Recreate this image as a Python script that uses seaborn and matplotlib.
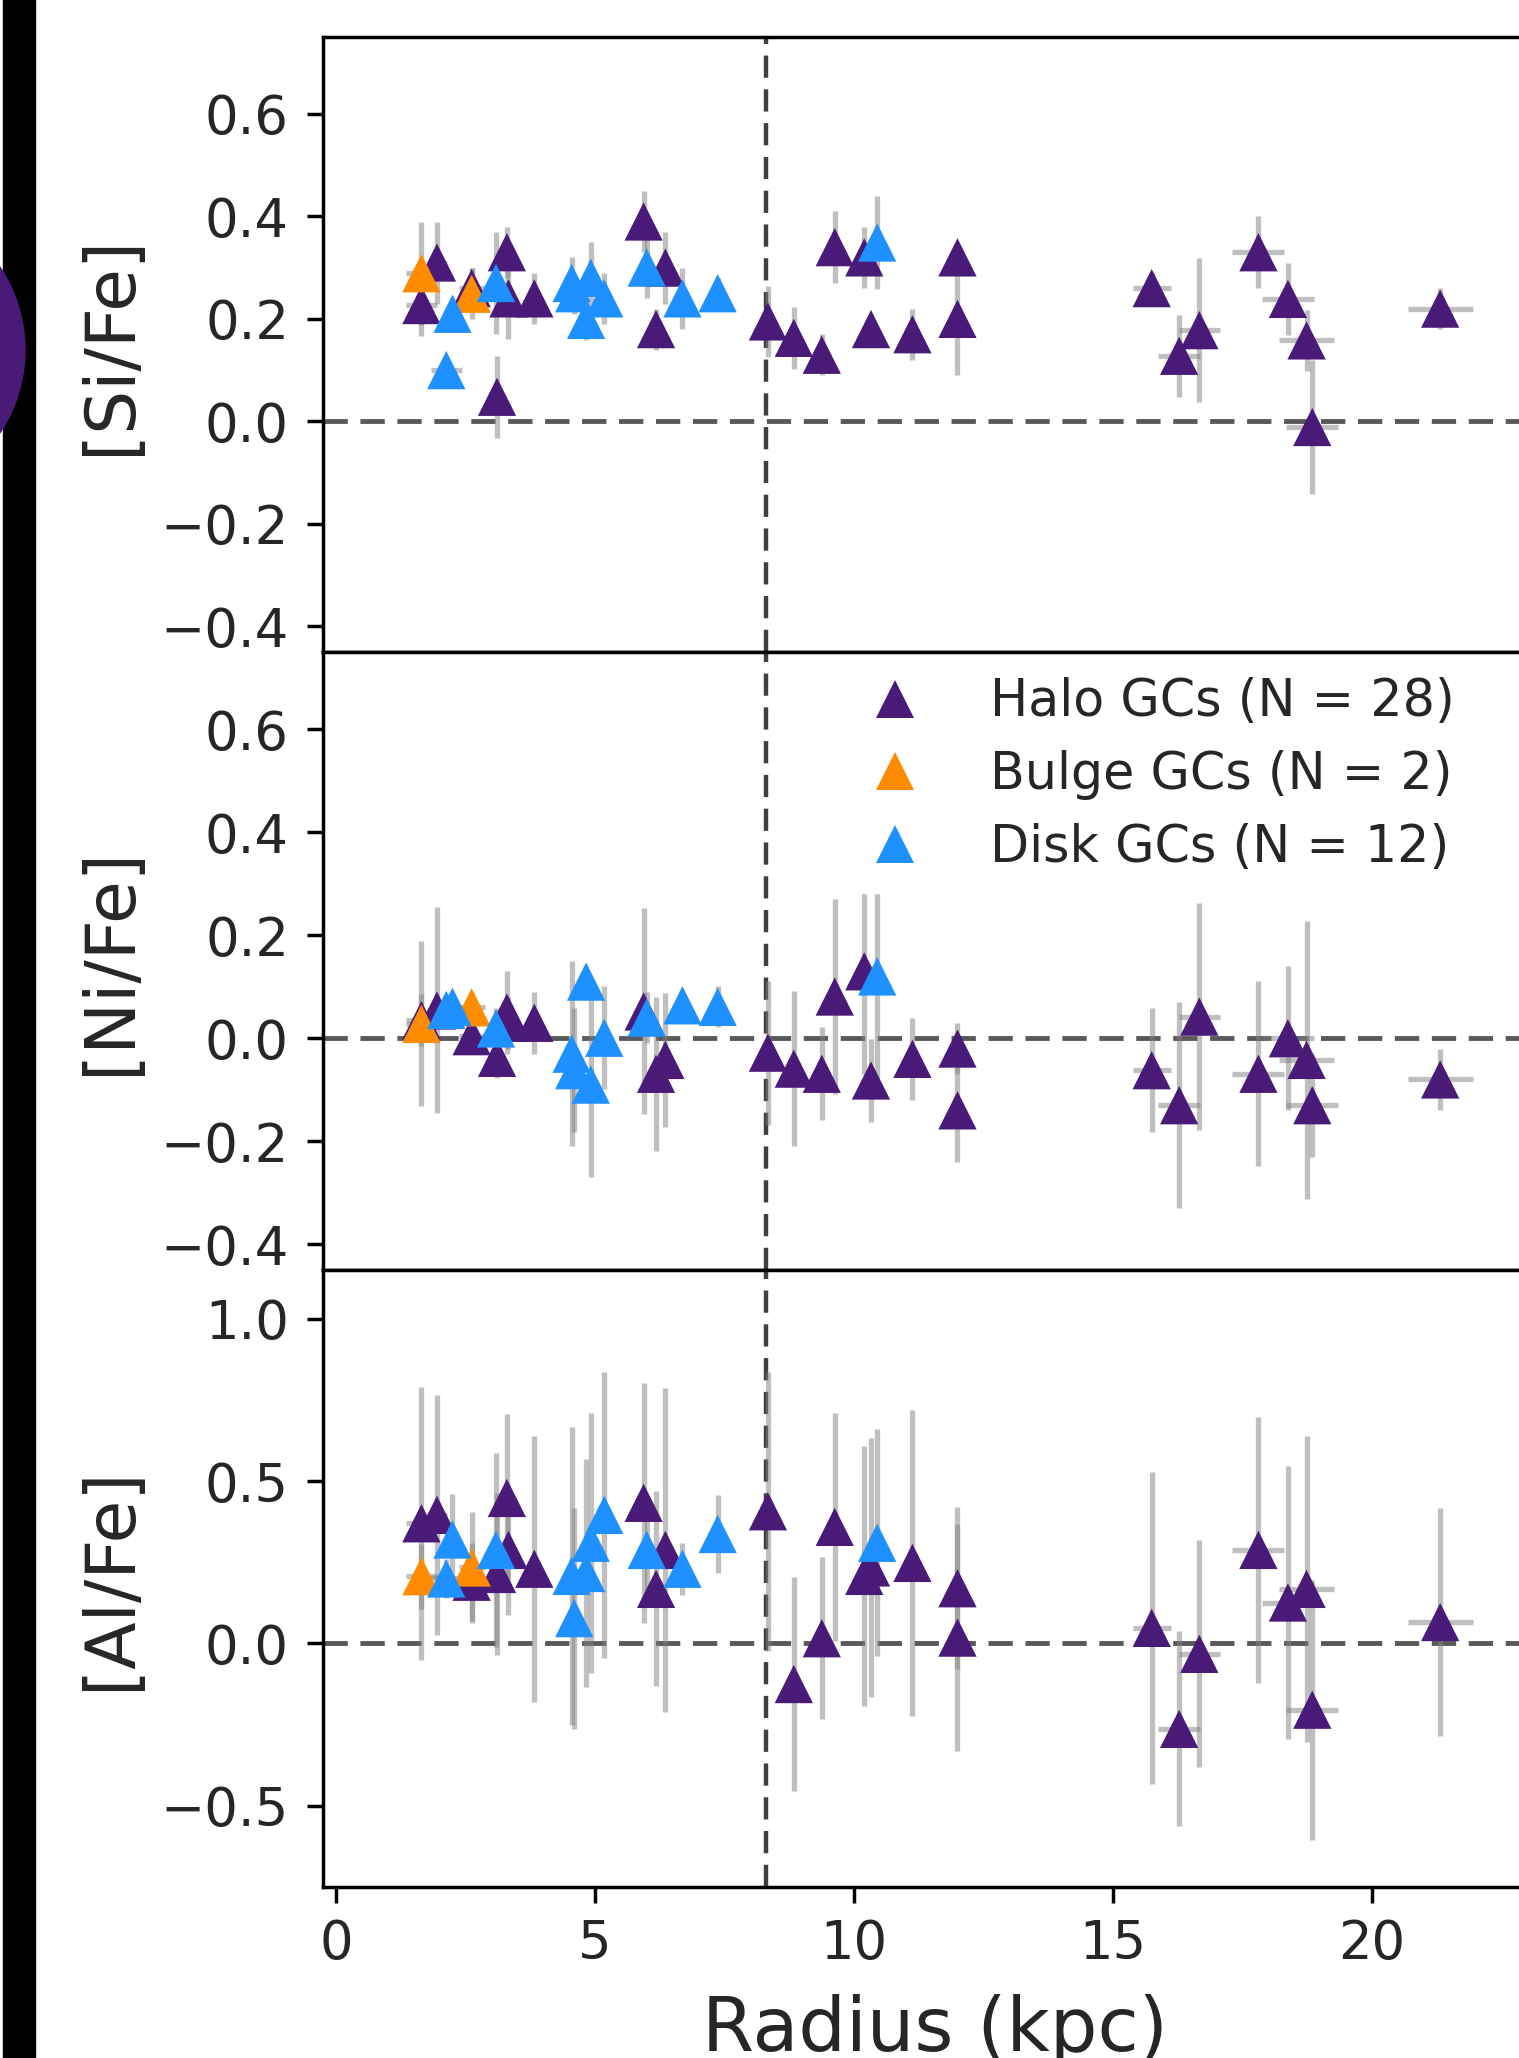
import pandas as pd
import matplotlib
matplotlib.use("Agg")
import matplotlib.pyplot as plt
import seaborn as sns
from matplotlib.patches import Rectangle, Ellipse

# Halo GCs
halo_r = [1.65, 1.95, 2.62, 3.11, 3.30, 3.33, 3.83, 5.94, 6.18, 6.36, 8.34, 8.84, 9.38, 9.63,
          10.20, 10.33, 11.13, 12.0, 12.0, 15.75, 16.28, 16.67, 17.81, 18.38, 18.74, 18.85, 21.32]
halo_xerr = [0.3, 0.2, 0.25, 0.1, 0, 0, 0, 0, 0, 0, 0, 0, 0, 0,
             0, 0, 0, 0, 0, 0.37, 0.4, 0.4, 0.5, 0.5, 0.53, 0.5, 0.63]
halo_si = [0.227, 0.31, 0.26, 0.048, 0.33, 0.24, 0.24, 0.39, 0.18, 0.30, 0.195, 0.163, 0.13, 0.34,
           0.32, 0.18, 0.17, 0.32, 0.20, 0.26, 0.128, 0.178, 0.33, 0.239, 0.158, -0.011, 0.22]
halo_si_err = [0.06, 0.08, 0.04, 0.08, 0.05, 0.08, 0.05, 0.06, 0.04, 0.07, 0.07, 0.06, 0.04, 0.07,
               0.06, 0.03, 0.05, 0.02, 0.11, 0.03, 0.08, 0.14, 0.07, 0.07, 0.06, 0.13, 0.04]
halo_ni = [0.035, 0.054, 0.004, -0.038, 0.05, 0.03, 0.03, 0.052, -0.069, -0.042, -0.028, -0.059, -0.069, 0.081,
           0.13, -0.082, -0.04, -0.02, -0.14, -0.062, -0.13, 0.042, -0.069, 0.0, -0.042, -0.13, -0.08]
halo_ni_err = [0.05, 0.2, 0.03, 0.04, 0.08, 0.05, 0.06, 0.2, 0.15, 0.13, 0.14, 0.15, 0.09, 0.19,
               0.2, 0.08, 0.08, 0.05, 0.1, 0.12, 0.2, 0.22, 0.18, 0.14, 0.27, 0.1, 0.06]
halo_al = [0.37, 0.396, 0.19, 0.214, 0.448, 0.288, 0.23, 0.433, 0.168, 0.288, 0.407, -0.125, 0.016, 0.359,
           0.208, 0.234, 0.248, 0.17, 0.018, 0.048, -0.263, -0.032, 0.288, 0.126, 0.168, -0.204, 0.066]
halo_al_err = [0.42, 0.37, 0.12, 0.25, 0.26, 0.2, 0.41, 0.37, 0.3, 0.5, 0.43, 0.33, 0.25, 0.35,
               0.4, 0.4, 0.47, 0.25, 0.35, 0.48, 0.3, 0.35, 0.41, 0.42, 0.47, 0.4, 0.35]

# Bulge GCs
bulge_r = [1.65, 2.62]
bulge_xerr = [0.3, 0.25]
bulge_si = [0.289, 0.249]
bulge_si_err = [0.10, 0.05]
bulge_ni = [0.028, 0.06]
bulge_ni_err = [0.16, 0.03]
bulge_al = [0.207, 0.234]
bulge_al_err = [0.1, 0.17]

# Disk GCs
disk_r = [2.13, 2.25, 3.09, 4.55, 4.60, 4.83, 4.92, 5.18, 6.0, 6.69, 7.37, 10.45]
disk_xerr = [0.3, 0.15, 0, 0, 0, 0, 0, 0, 0, 0, 0, 0]
disk_si = [0.10, 0.21, 0.27, 0.27, 0.25, 0.198, 0.28, 0.24, 0.30, 0.24, 0.25, 0.349]
disk_si_err = [0.02, 0.03, 0.1, 0.05, 0.04, 0.04, 0.07, 0.05, 0.06, 0.06, 0.03, 0.09]
disk_ni = [0.055, 0.061, 0.019, -0.03, -0.062, 0.11, -0.09, 0.001, 0.04, 0.064, 0.061, 0.12]
disk_ni_err = [0.03, 0.03, 0.04, 0.18, 0.12, 0.03, 0.18, 0.1, 0.05, 0.03, 0.04, 0.2]
disk_al = [0.2, 0.32, 0.288, 0.208, 0.078, 0.217, 0.31, 0.396, 0.288, 0.23, 0.337, 0.31]
disk_al_err = [0.06, 0.14, 0.3, 0.46, 0.34, 0.35, 0.4, 0.44, 0.15, 0.08, 0.12, 0.35]

labels = ["Halo GCs (N = 28)", "Bulge GCs (N = 2)", "Disk GCs (N = 12)"]
colors = ["#4a1a78", "#ff8c00", "#1e90ff"]
elements = ["[Si/Fe]", "[Ni/Fe]", "[Al/Fe]"]

groups = [
    (labels[0], halo_r, halo_xerr, [(halo_si, halo_si_err), (halo_ni, halo_ni_err), (halo_al, halo_al_err)]),
    (labels[1], bulge_r, bulge_xerr, [(bulge_si, bulge_si_err), (bulge_ni, bulge_ni_err), (bulge_al, bulge_al_err)]),
    (labels[2], disk_r, disk_xerr, [(disk_si, disk_si_err), (disk_ni, disk_ni_err), (disk_al, disk_al_err)]),
]
rows = []
for name, r, xe, vals in groups:
    for el, (v, e) in zip(elements, vals):
        for i in range(len(r)):
            rows.append({"radius": r[i], "xerr": xe[i], "group": name,
                         "element": el, "value": v[i], "err": e[i]})
df = pd.DataFrame(rows)

sns.set_style("ticks")
plt.rcParams["font.family"] = ["DejaVu Sans"]

fig, axes = plt.subplots(3, 1, figsize=(15.19, 20.58), dpi=100, sharex=True)

W, H = 1519, 2058
left, width = 323 / W, 1256 / W
bounds = [(37, 652), (652, 1270), (1270, 1887)]
ylims = [(-0.45, 0.75), (-0.45, 0.75), (-0.75, 1.15)]
yticks = [[-0.4, -0.2, 0.0, 0.2, 0.4, 0.6], [-0.4, -0.2, 0.0, 0.2, 0.4, 0.6], [-0.5, 0.0, 0.5, 1.0]]

dash = (0, (5, 2.6))
for i, ax in enumerate(axes):
    top, bot = bounds[i]
    ax.set_position([left, 1 - bot / H, width, (bot - top) / H])
    sub = df[df["element"] == elements[i]]
    ax.axhline(0, color="0.35", lw=3.5, ls=dash, zorder=0)
    ax.axvline(8.3, color="0.25", lw=3.2, ls=dash, zorder=0.5)
    ax.errorbar(sub["radius"], sub["value"], yerr=sub["err"], xerr=sub["xerr"], fmt="none",
                ecolor="gray", alpha=0.5, elinewidth=3.8, capsize=0, zorder=1)
    sns.scatterplot(data=sub, x="radius", y="value", hue="group", hue_order=labels,
                    palette=colors, marker="^", s=760, linewidth=0, ax=ax,
                    legend=(i == 1), zorder=3)
    ax.set_ylim(*ylims[i])
    ax.set_yticks(yticks[i])
    ax.set_xlim(-0.25, 24)
    ax.set_ylabel(elements[i], fontsize=50)
    ax.yaxis.set_label_coords(-0.1425, 0.5)
    ax.set_xlabel("")
    for s in ax.spines.values():
        s.set_linewidth(2.5)
        s.set_color("black")
    ax.tick_params(axis="y", labelsize=38, length=11.5, width=2.5, pad=13, color="black")
    ax.tick_params(axis="x", labelsize=38, length=11.5, width=2.5, pad=11, color="black",
                   bottom=(i == 2))

axes[2].set_xticks([0, 5, 10, 15, 20])
axes[2].set_xlabel("Radius (kpc)", fontsize=54)
axes[2].xaxis.set_label_coords(0.487, -0.173)

sns.move_legend(axes[1], "upper left", bbox_to_anchor=(0.395, 1.0), title=None,
                frameon=True, fontsize=36.5, borderaxespad=0.1, labelspacing=0.45,
                handletextpad=0.87, borderpad=0.4, framealpha=1, edgecolor="white",
                fancybox=False)

# cropped edge of the neighbouring panel
fig.add_artist(Rectangle((3 / W, 0), 32 / W, 1, transform=fig.transFigure,
                         color="black", zorder=5))
fig.add_artist(Ellipse((-125 / W, 1 - 350 / H), 300 / W, 300 / H,
                       transform=fig.transFigure, color="#4a1a78", zorder=6))

fig.savefig("out.png", dpi=100)
